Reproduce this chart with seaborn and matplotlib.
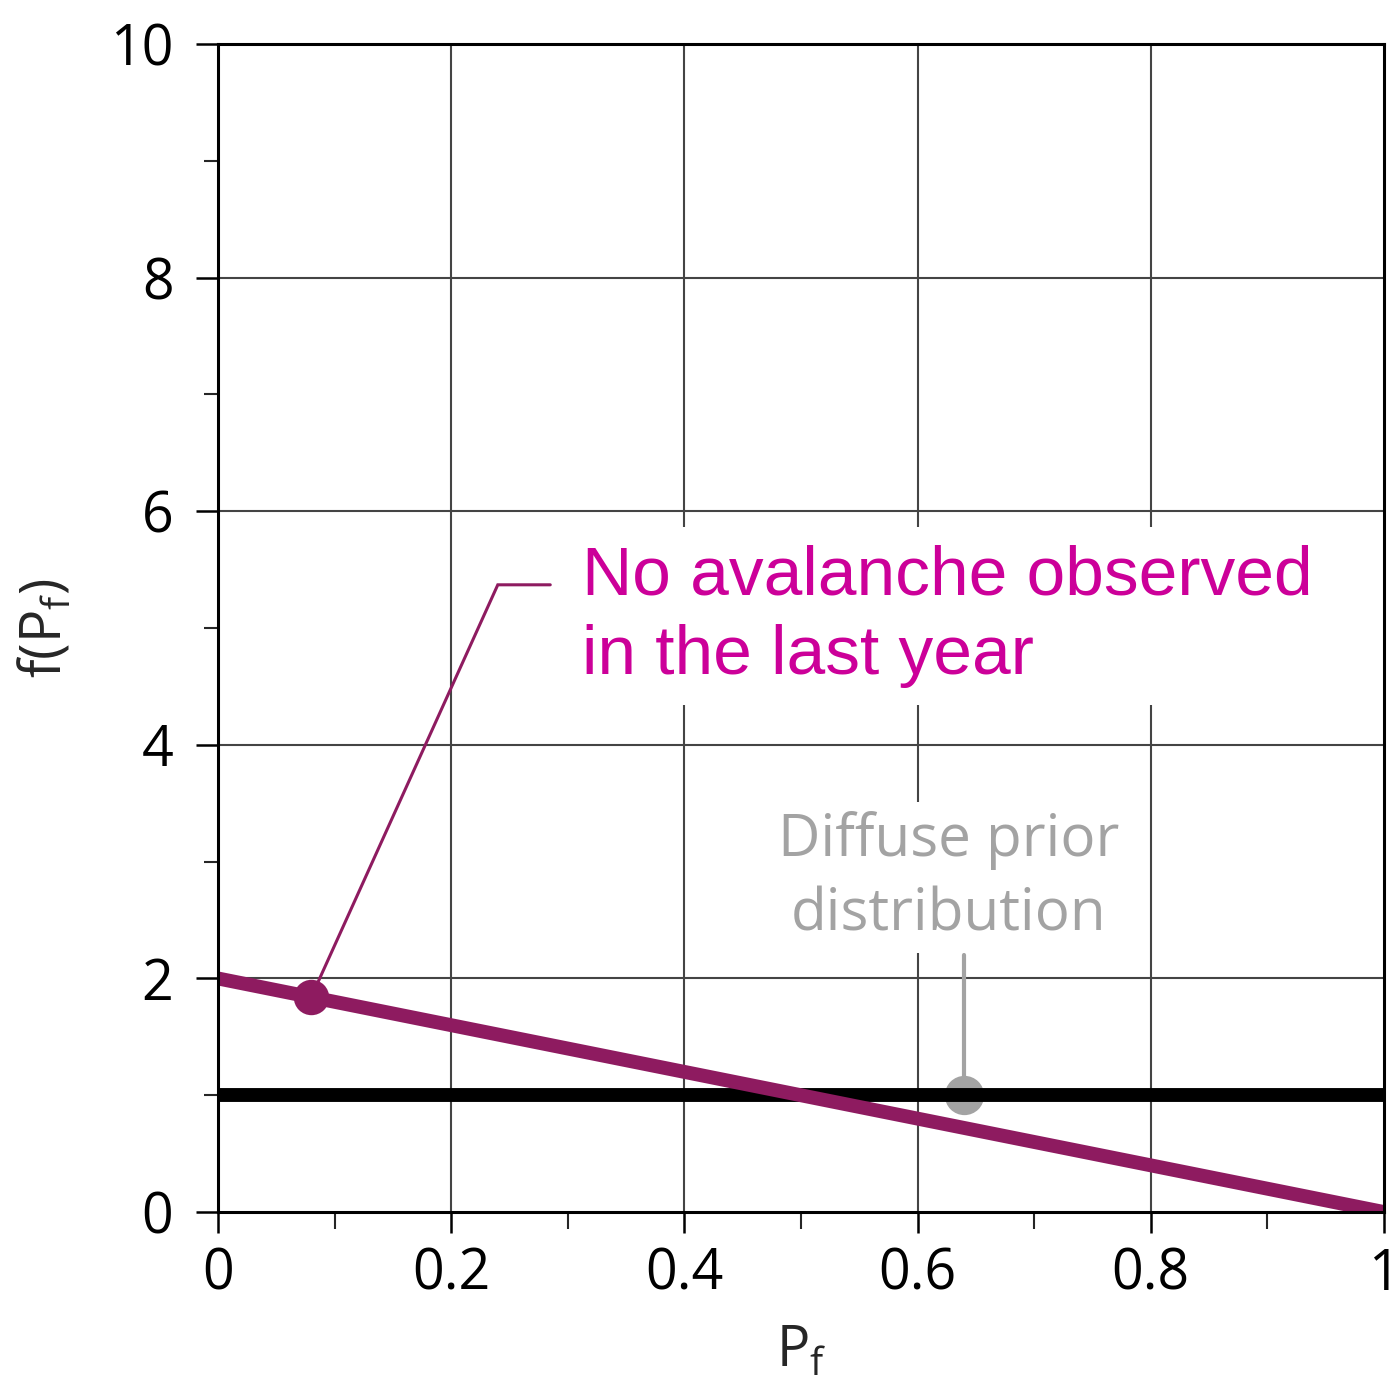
import matplotlib
matplotlib.use("Agg")
import matplotlib.pyplot as plt
from matplotlib.ticker import MultipleLocator
import seaborn as sns
import pandas as pd

# Probability of failure and the two densities over it
pf = [0.0, 1.0]
prior_density = [1.0, 1.0]
posterior_density = [2.0, 0.0]

# Annotated points
posterior_point = (0.08, 1.84)
prior_point = (0.64, 1.0)

x_ticks = [0, 0.2, 0.4, 0.6, 0.8, 1]
x_tick_labels = ["0", "0.2", "0.4", "0.6", "0.8", "1"]
y_ticks = [0, 2, 4, 6, 8, 10]
y_tick_labels = ["0", "2", "4", "6", "8", "10"]

MAGENTA_LINE = "#8e1b60"
MAGENTA_TEXT = "#cc0099"
GREY = "#a3a3a3"
GRID = "#444444"

sns.set_theme(style="white")
plt.rcParams["font.family"] = ["Open Sans", "DejaVu Sans"]
plt.rcParams["mathtext.default"] = "regular"

df = pd.DataFrame({"pf": pf, "prior": prior_density, "posterior": posterior_density})

fig = plt.figure(figsize=(13.97, 13.83), dpi=100)
ax = fig.add_axes([0.156, 0.1236, 0.8347, 0.8446])

ax.set_xlim(0, 1)
ax.set_ylim(0, 10)

# grid behind everything
for gx in x_ticks[1:-1]:
    ax.axvline(gx, color=GRID, lw=1.5, zorder=1)
for gy in y_ticks[1:-1]:
    ax.axhline(gy, color=GRID, lw=1.5, zorder=1)

sns.lineplot(data=df, x="pf", y="prior", color="black", lw=10, ax=ax,
             zorder=4, solid_capstyle="butt")
sns.lineplot(data=df, x="pf", y="posterior", color=MAGENTA_LINE, lw=10, ax=ax,
             zorder=5, solid_capstyle="round")

# leader for the posterior curve
elbow = (0.24, 5.37)
tail = (0.285, 5.37)
ax.plot([posterior_point[0], elbow[0], tail[0]],
        [posterior_point[1], elbow[1], tail[1]],
        color=MAGENTA_LINE, lw=2.2, zorder=6, solid_joinstyle="miter")
ax.scatter([posterior_point[0]], [posterior_point[1]], s=650, color=MAGENTA_LINE,
           zorder=7, linewidths=0)

# leader for the prior
ax.plot([prior_point[0], prior_point[0]], [prior_point[1], 2.2],
        color=GREY, lw=3, zorder=3)
ax.scatter([prior_point[0]], [prior_point[1]], s=800, color=GREY, zorder=3,
           linewidths=0)

ax.text(0.312, 5.1, "No avalanche observed\nin the last year",
        color=MAGENTA_TEXT, fontsize=50, family=["Liberation Sans", "DejaVu Sans"],
        ha="left", va="center", linespacing=1.3, zorder=2,
        bbox=dict(boxstyle="square,pad=0.25", fc="white", ec="none"))

ax.text(0.627, 2.86, "Diffuse prior\ndistribution",
        color=GREY, fontsize=42, ha="center", va="center", linespacing=1.36,
        zorder=2, bbox=dict(boxstyle="square,pad=0.15", fc="white", ec="none"))

ax.set_xticks(x_ticks)
ax.set_xticklabels(x_tick_labels)
ax.set_yticks(y_ticks)
ax.set_yticklabels(y_tick_labels)
ax.xaxis.set_minor_locator(MultipleLocator(0.1))
ax.yaxis.set_minor_locator(MultipleLocator(1))

ax.tick_params(axis="x", which="major", direction="out", length=15, width=1.8,
               pad=10, labelsize=40, colors="black", bottom=True)
ax.tick_params(axis="x", which="minor", direction="out", length=12, width=1.5,
               bottom=True)
ax.tick_params(axis="y", which="major", direction="out", length=16, width=1.8,
               pad=16, labelsize=40, colors="black", left=True)
ax.tick_params(axis="y", which="minor", direction="out", length=10, width=1.5,
               left=True)

for side in ["left", "bottom", "top", "right"]:
    ax.spines[side].set_visible(True)
    ax.spines[side].set_color("black")
    ax.spines[side].set_linewidth(2.2)
    ax.spines[side].set_zorder(8)

ax.set_xlabel("P$_f$", fontsize=40)
ax.set_ylabel("f(P$_f$)", fontsize=40)
ax.xaxis.set_label_coords(0.5, -0.095)
ax.yaxis.set_label_coords(-0.123, 0.5)

fig.savefig("out.png", dpi=100, facecolor="white")
